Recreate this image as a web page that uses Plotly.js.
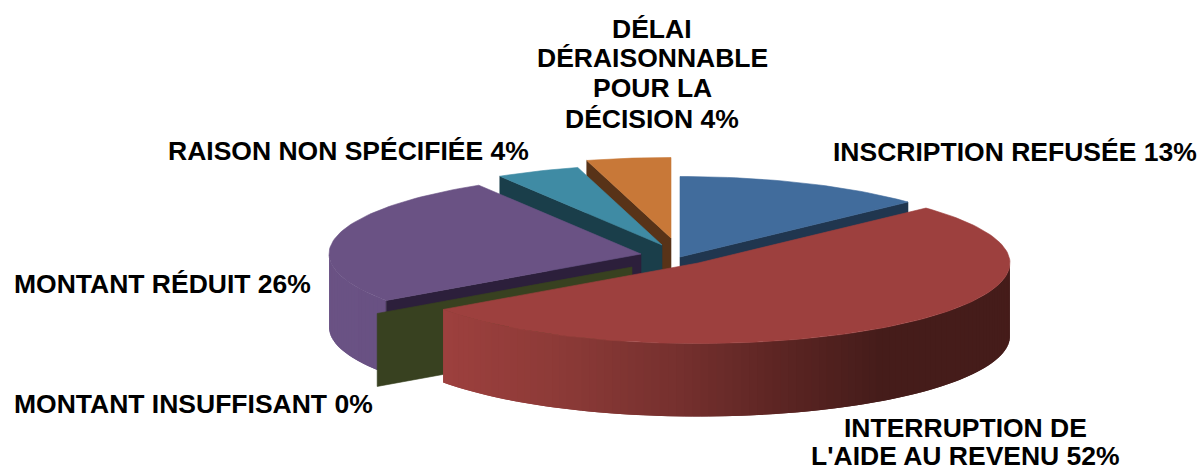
<!DOCTYPE html>
<html><head><meta charset="utf-8">
<script src="https://cdn.plot.ly/plotly-3.0.0.min.js"></script>
<style>html,body{margin:0;padding:0;background:#fff}#c{width:1203px;height:472px}</style>
</head><body><div id="c"></div>
<script>
// Data (shares in %, more precise than the rounded labels)
const categories = ["INSCRIPTION REFUSÉE","INTERRUPTION DE L'AIDE AU REVENU","MONTANT INSUFFISANT","MONTANT RÉDUIT","RAISON NON SPÉCIFIÉE","DÉLAI DÉRAISONNABLE POUR LA DÉCISION"];
const shares = [13.04,52.17,0,26.09,4.35,4.35];
const shownLabels = ["INSCRIPTION REFUSÉE 13%","INTERRUPTION DE<br>L'AIDE AU REVENU 52%","MONTANT INSUFFISANT 0%","MONTANT RÉDUIT 26%","RAISON NON SPÉCIFIÉE 4%","DÉLAI<br>DÉRAISONNABLE<br>POUR LA<br>DÉCISION 4%"];

// Styling
const topColors  = ["#416c9c","#9d403e","#384120","#6a5284","#3f8ba4","#c87838"];
const faceColors = ["#20364f","#451c1a","#384120","#2c1f3b","#1a3e4a","#583318"];
const centersX = [680,698,632,641,662,671];
const centersY = [257,263,267,254,245,238];
const labelX = [1015,965.5,193.5,162.5,348,652];
const labelY = [[152],[428,456],[404],[284],[151],[29,58,88,119]];
const RX = 312, RY = 80.5, DEPTH = 73;

const total = shares.reduce((a,b)=>a+b,0);
const traces = [];
const rad = d => d*Math.PI/180;
const pt = (i,deg) => [centersX[i]+RX*Math.sin(rad(deg)), centersY[i]-RY*Math.cos(rad(deg))];
function poly(pts,color,lw){
  const xs = pts.map(p=>p[0]), ys = pts.map(p=>p[1]);
  xs.push(xs[0]); ys.push(ys[0]);
  traces.push({type:"scatter",mode:"lines",x:xs,y:ys,fill:"toself",fillcolor:color,
    line:{color:color,width:lw},hoverinfo:"skip",showlegend:false});
}
function arc(i,a,b){
  const n = Math.max(2,Math.ceil(Math.abs(b-a)/1.5)), out=[];
  for(let k=0;k<=n;k++) out.push(pt(i,a+(b-a)*k/n));
  return out;
}
const starts=[]; let acc=0;
shares.forEach(v=>{starts.push(acc); acc+=v/total*360;});
const ends = starts.map((s,i)=>s+shares[i]/total*360);

function cutFace(i,deg){
  const c=[centersX[i],centersY[i]], e=pt(i,deg);
  poly([c,e,[e[0],e[1]+DEPTH],[c[0],c[1]+DEPTH]],faceColors[i],0.6);
}
const wallStops = {
  1:[[443,[157,64,62]],[560,[140,58,55]],[680,[117,48,46]],[780,[92,37,35]],[880,[69,28,26]],[1010,[69,28,26]]],
  3:[[329,[106,82,132]],[440,[104,80,130]]]
};
function wallColor(i,x){
  const s=wallStops[i];
  if(x<=s[0][0]) return `rgb(${s[0][1].join(",")})`;
  for(let k=1;k<s.length;k++){
    if(x<=s[k][0]){
      const t=(x-s[k-1][0])/(s[k][0]-s[k-1][0]);
      const c=s[k-1][1].map((v,j)=>Math.round(v+(s[k][1][j]-v)*t));
      return `rgb(${c.join(",")})`;
    }
  }
  return `rgb(${s[s.length-1][1].join(",")})`;
}
// The wall is painted strip by strip; each strip runs under the next one so no seam shows.
function wall(i,a,b){
  const n=Math.ceil(Math.abs(b-a)/1.5);
  for(let k=0;k<n;k++){
    const d0=a+(b-a)*k/n, d1=a+(b-a)*(k+1)/n, d2=a+(b-a)*Math.min(k+2,n)/n;
    const edge=arc(i,d0,d2);
    const pts=[...edge,...edge.slice().reverse().map(p=>[p[0],p[1]+DEPTH])];
    const p=pt(i,d0), q=pt(i,d1);
    poly(pts,wallColor(i,(p[0]+q[0])/2),0);
  }
}
function sliceTop(i){ poly([[centersX[i],centersY[i]],...arc(i,starts[i],ends[i])],topColors[i],0.6); }

// Painter's order, back to front
cutFace(0,ends[0]); sliceTop(0);
cutFace(5,starts[5]); sliceTop(5);
cutFace(4,starts[4]); sliceTop(4);
wall(3,Math.max(starts[3],180),Math.min(ends[3],270));
cutFace(3,starts[3]); sliceTop(3);
cutFace(2,starts[2]);
wall(1,Math.max(starts[1],90),Math.min(ends[1],270));
sliceTop(1);

const annotations = [];
shownLabels.forEach((t,i)=>t.split("<br>").forEach((line,j)=>annotations.push({
  text:"<b>"+line+"</b>",x:labelX[i],y:labelY[i][j],xref:"x",yref:"y",
  xanchor:"center",yanchor:"middle",showarrow:false,align:"center",
  font:{family:"Liberation Sans, Arial, sans-serif",size:26.5,color:"#000"}})));

Plotly.newPlot("c",traces,{
  width:1203,height:472,margin:{l:0,r:0,t:0,b:0},paper_bgcolor:"#fff",plot_bgcolor:"#fff",
  showlegend:false,annotations,
  xaxis:{range:[0,1203],visible:false,fixedrange:true},
  yaxis:{range:[472,0],visible:false,fixedrange:true}
},{displayModeBar:false,staticPlot:true});
</script></body></html>
